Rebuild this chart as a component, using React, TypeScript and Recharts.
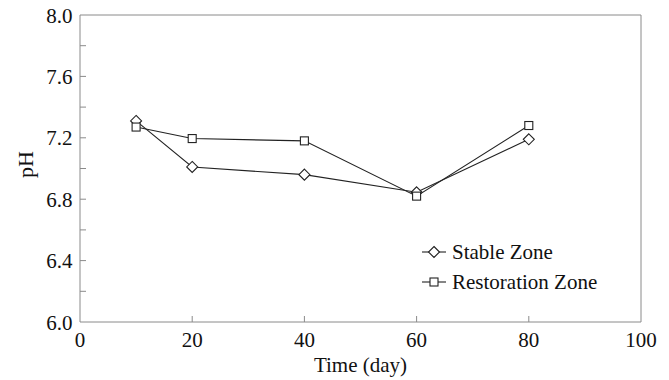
import React from 'react';
import { LineChart, Line, XAxis, YAxis, Legend, ReferenceLine } from 'recharts';

const days = [10, 20, 40, 60, 80];
const stableZone = [7.31, 7.01, 6.96, 6.845, 7.19];
const restorationZone = [7.27, 7.195, 7.18, 6.82, 7.28];
const xTicks = [0, 20, 40, 60, 80, 100];
const yTicks = [6.0, 6.2, 6.4, 6.6, 6.8, 7.0, 7.2, 7.4, 7.6, 7.8, 8.0];
const yLabeled = [6.0, 6.4, 6.8, 7.2, 7.6, 8.0];
const seriesOrder = ['stable', 'restoration'];

const data = days.map((d, i) => ({ day: d, stable: stableZone[i], restoration: restorationZone[i] }));

const FONT = '"Liberation Serif", "DejaVu Serif", serif';
const FS = 21;
const AXIS = '#8a8a8a';
const LINE = '#222222';

const Diamond = (props: any) => {
  const { cx, cy } = props;
  if (cx == null || cy == null) return null;
  const r = 5.5;
  return <path d={`M${cx},${cy - r}L${cx + r},${cy}L${cx},${cy + r}L${cx - r},${cy}Z`} fill="#fff" stroke={LINE} strokeWidth={1.1} />;
};
const Square = (props: any) => {
  const { cx, cy } = props;
  if (cx == null || cy == null) return null;
  const r = 4;
  return <rect x={cx - r} y={cy - r} width={2 * r} height={2 * r} fill="#fff" stroke={LINE} strokeWidth={1.1} />;
};

const YTick = (props: any) => {
  const { x, y, payload } = props;
  const ax = x + 8;
  const v = payload.value;
  const labeled = yLabeled.some((t) => Math.abs(t - v) < 1e-6);
  return (
    <g>
      {v > 6.01 && v < 7.99 && <line x1={ax} x2={ax + 6} y1={y} y2={y} stroke={AXIS} strokeWidth={1} />}
      {labeled && (
        <text x={ax - 7.5} y={y + 7.5} textAnchor="end" fontFamily={FONT} fontSize={FS} fill="#111">
          {v.toFixed(1)}
        </text>
      )}
    </g>
  );
};

const XTick = (props: any) => {
  const { x, y, payload } = props;
  const ay = y - 4;
  const v = payload.value;
  return (
    <g>
      {v > 0 && v < 100 && <line x1={x} x2={x} y1={ay} y2={ay - 6} stroke={AXIS} strokeWidth={1} />}
      <text x={x} y={ay + 25} textAnchor="middle" fontFamily={FONT} fontSize={FS} fill="#111">
        {v}
      </text>
    </g>
  );
};

const LegendContent = (props: any) => {
  const payload = [...(props.payload || [])].sort(
    (a: any, b: any) => seriesOrder.indexOf(a.dataKey) - seriesOrder.indexOf(b.dataKey)
  );
  return (
    <div>
      {payload.map((p: any, i: number) => (
        <div key={i} style={{ display: 'flex', alignItems: 'center', height: 30 }}>
          <svg width={25} height={14} style={{ marginRight: 5 }}>
            <line x1={0} x2={24} y1={7} y2={7} stroke={LINE} strokeWidth={1.1} />
            {p.dataKey === 'stable' ? <Diamond cx={12} cy={7} /> : <Square cx={12} cy={7} />}
          </svg>
          <span style={{ fontFamily: FONT, fontSize: FS, color: '#111', lineHeight: '30px' }}>{p.value}</span>
        </div>
      ))}
    </div>
  );
};

export default function App() {
  return (
    <div style={{ position: 'absolute', left: 0, top: 0 }}>
      <LineChart width={669} height={380} data={data} margin={{ top: 15, right: 28, bottom: 0, left: 0 }}>
        <XAxis
          dataKey="day"
          type="number"
          domain={[0, 100]}
          ticks={xTicks}
          height={58}
          stroke={AXIS}
          tickLine={false}
          tickSize={0}
          tickMargin={4}
          tick={<XTick />}
          interval={0}
          label={{
            content: (p: any) => {
              const { x, y, width } = p.viewBox;
              return (
                <text x={x + width / 2} y={y + 50} textAnchor="middle" fontFamily={FONT} fontSize={FS} fill="#111">
                  Time (day)
                </text>
              );
            },
          }}
        />
        <YAxis
          type="number"
          domain={[6, 8]}
          ticks={yTicks}
          width={80}
          stroke={AXIS}
          tickLine={false}
          tickSize={0}
          tickMargin={8}
          tick={<YTick />}
          interval={0}
          label={{
            content: (p: any) => {
              const { x, y, height } = p.viewBox;
              const cx = x + 25;
              const cy = y + height / 2 - 4;
              return (
                <text x={cx} y={cy} transform={`rotate(-90 ${cx} ${cy})`} textAnchor="middle" dominantBaseline="central" fontFamily={FONT} fontSize={22} fill="#111">
                  pH
                </text>
              );
            },
          }}
        />
        <ReferenceLine y={8} stroke={AXIS} strokeWidth={1} ifOverflow="extendDomain" />
        <ReferenceLine x={100} stroke={AXIS} strokeWidth={1} ifOverflow="extendDomain" />
        <Line dataKey="stable" name="Stable Zone" stroke={LINE} strokeWidth={1.1} dot={<Diamond />} activeDot={false} isAnimationActive={false} />
        <Line dataKey="restoration" name="Restoration Zone" stroke={LINE} strokeWidth={1.1} dot={<Square />} activeDot={false} isAnimationActive={false} />
        <Legend content={<LegendContent />} layout="vertical" verticalAlign="middle" align="center" wrapperStyle={{ left: 422, top: 237, width: 220 }} />
      </LineChart>
    </div>
  );
}
